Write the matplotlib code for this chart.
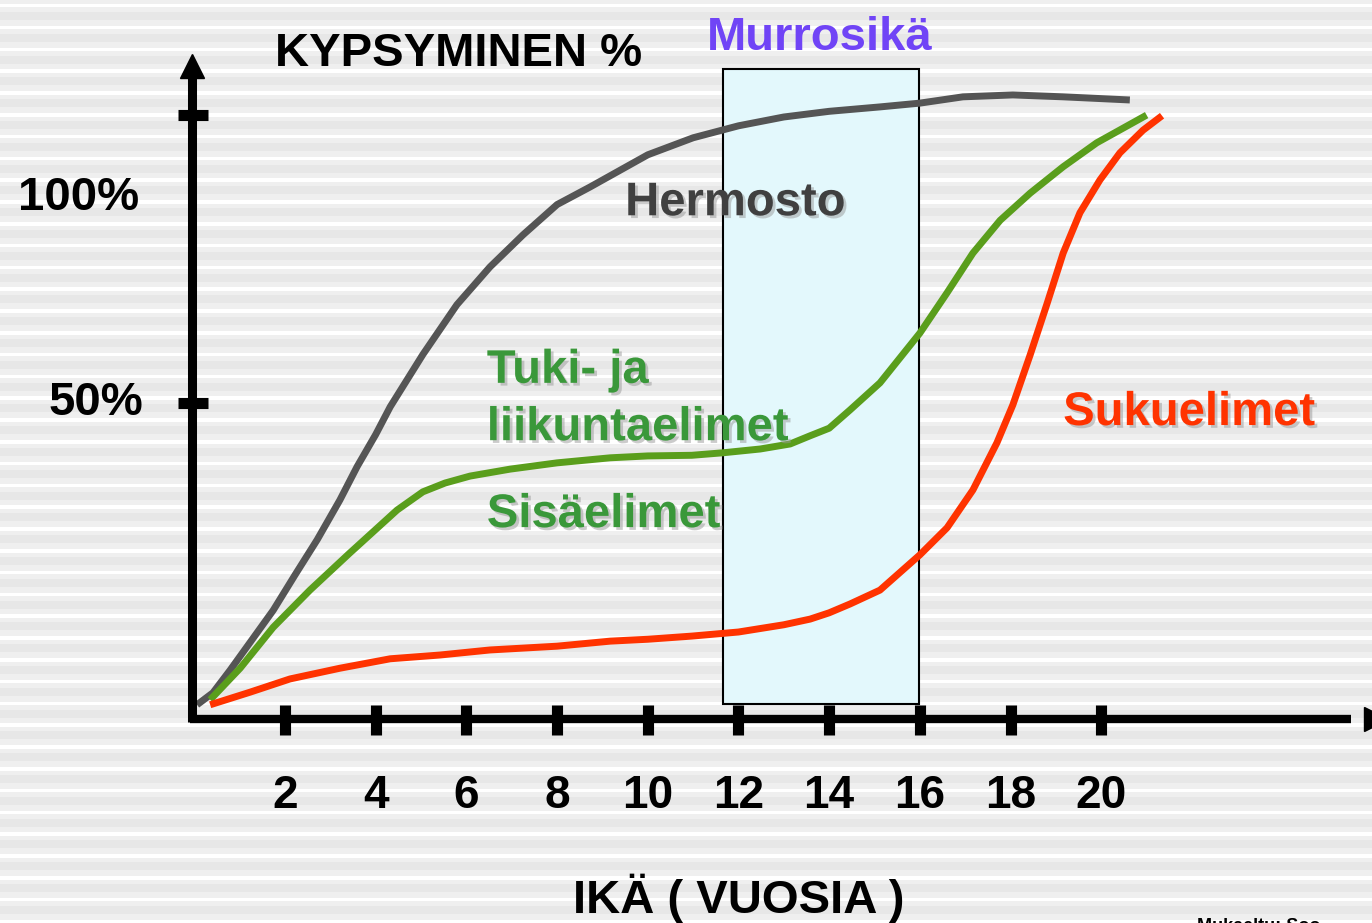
import numpy as np
import matplotlib
matplotlib.use('Agg')
import matplotlib.pyplot as plt
import matplotlib.patheffects as pe
from matplotlib.patches import Rectangle

# --- data: age (years) vs maturity (%) --------------------------------------
herm_age = [0.06, 0.41, 0.79, 1.23, 1.74, 2.22, 2.71, 3.21, 3.59, 4.0, 4.32, 5.04,
            5.79, 6.52, 7.25, 8.0, 8.73, 10.0, 11.0, 12.0, 13.0, 14.0, 15.12, 16.0,
            16.95, 18.05, 19.16, 20.63]
herm_pct = [2.1, 4.0, 7.6, 12.0, 17.1, 22.7, 28.3, 34.6, 39.9, 45.0, 49.4, 57.7,
            65.6, 71.6, 76.7, 81.5, 84.3, 89.4, 92.1, 94.0, 95.4, 96.3, 97.0, 97.6,
            98.6, 98.9, 98.6, 98.1]

tuki_age = [0.35, 1.01, 1.74, 2.55, 3.43, 4.47, 5.04, 5.53, 6.08, 6.96, 8.0, 9.17,
            10.0, 10.97, 11.66, 12.48, 13.14, 13.58, 14.0, 14.46, 15.12, 16.0, 16.6,
            17.17, 17.77, 18.43, 19.16, 19.9, 21.0]
tuki_pct = [2.9, 7.9, 14.4, 20.3, 26.2, 33.0, 35.9, 37.3, 38.4, 39.5, 40.5, 41.3,
            41.6, 41.7, 42.1, 42.7, 43.5, 44.8, 46.0, 48.9, 53.2, 61.1, 67.5,
            73.8, 79.0, 83.3, 87.5, 91.3, 95.7]

suku_age = [0.35, 1.23, 2.11, 3.21, 4.32, 5.42, 6.52, 8.0, 9.17, 10.0, 10.97, 12.0,
            13.0, 13.58, 14.0, 14.46, 15.12, 16.0, 16.6, 17.17, 17.7, 18.05, 18.43,
            18.81, 19.16, 19.53, 19.97, 20.41, 20.92, 21.34]
suku_pct = [2.1, 4.1, 6.2, 7.9, 9.4, 10.0, 10.8, 11.4, 12.2, 12.5, 13.0, 13.65,
            14.8, 15.7, 16.7, 18.1, 20.3, 25.9, 30.2, 36.2, 43.7, 49.7, 57.6,
            65.9, 73.8, 80.2, 85.4, 89.7, 93.3, 95.6]

x_ticks = [2, 4, 6, 8, 10, 12, 14, 16, 18, 20]
y_ticks = [95.7, 50]
puberty = (11.66, 15.98)          # Murrosikä window (years)

GRAY, GREEN, RED = '#555555', '#5a9e1c', '#ff3300'
GREEN_TXT = '#3a983a'

plt.rcParams['font.family'] = ['Liberation Sans', 'DejaVu Sans']
fig = plt.figure(figsize=(13.72, 9.23), dpi=100)

# striped slide background
bg = fig.add_axes([0, 0, 1, 1], zorder=0)
rows = np.arange(923)
phase = (rows - 3.5) % 21.8
shade = np.where(phase < 3.5, 1.0, np.where((phase > 8) & (phase < 16), 0.905, 0.935))
bg.imshow(np.repeat(shade[:, None], 4, axis=1), cmap='gray', vmin=0, vmax=1,
          aspect='auto', interpolation='nearest', extent=[0, 1, 0, 1])
bg.set_axis_off()

ax = fig.add_axes([0, 0, 1, 1], zorder=1)
ax.set_facecolor('none')
ax.set_xlim(-4.285, 25.97)
ax.set_ylim(-32.54, 113.97)
ax.set_axis_off()

# puberty box
ax.add_patch(Rectangle((puberty[0], 2.2), puberty[1] - puberty[0], 100.8,
                       facecolor='#e3f8fc', edgecolor='black', lw=1.5, zorder=2))

# axes with arrows and chunky ticks
ax.plot([-0.05, -0.05], [-0.6, 102], color='black', lw=6.5, solid_capstyle='butt', zorder=4)
ax.plot([-0.05], [103.5], marker='^', ms=17, color='black', zorder=4)
ax.plot([-0.1, 25.5], [-0.15, -0.15], color='black', lw=6, solid_capstyle='butt', zorder=4)
ax.plot([26.06], [-0.15], marker='>', ms=17, color='black', zorder=4, clip_on=False)
for t in x_ticks:
    ax.plot([t, t], [2.1, -2.7], color='black', lw=8, solid_capstyle='butt', zorder=4)
    ax.text(t, -14.3, str(t), ha='center', va='baseline', fontsize=33,
            fontweight='bold', zorder=5)
for t in y_ticks:
    ax.plot([-0.36, 0.3], [t, t], color='black', lw=8, solid_capstyle='butt', zorder=4)

# curves
for xs, ys, c in [(herm_age, herm_pct, GRAY), (tuki_age, tuki_pct, GREEN),
                  (suku_age, suku_pct, RED)]:
    ax.plot(xs, ys, color=c, lw=5, solid_capstyle='butt', solid_joinstyle='round',
            zorder=3)

shadow = [pe.withSimplePatchShadow(offset=(2, -2), shadow_rgbFace='#999999', alpha=0.5)]
fs = 34
ax.text(1.78, 103.5, 'KYPSYMINEN %', fontsize=fs, fontweight='bold', va='baseline', zorder=5)
ax.text(13.8, 106.0, 'Murrosikä', fontsize=fs, fontweight='bold', color='#7044f6',
        ha='center', va='baseline', zorder=5)
ax.text(9.5, 79.8, 'Hermosto', fontsize=fs, fontweight='bold', color='#404040',
        va='baseline', zorder=5, path_effects=shadow)
ax.text(6.45, 53.2, 'Tuki- ja', fontsize=fs, fontweight='bold', color=GREEN_TXT,
        va='baseline', zorder=5, path_effects=shadow)
ax.text(6.45, 44.1, 'liikuntaelimet', fontsize=fs, fontweight='bold', color=GREEN_TXT,
        va='baseline', zorder=5, path_effects=shadow)
ax.text(6.45, 30.3, 'Sisäelimet', fontsize=fs, fontweight='bold', color=GREEN_TXT,
        va='baseline', zorder=5, path_effects=shadow)
ax.text(19.16, 46.5, 'Sukuelimet', fontsize=fs, fontweight='bold', color=RED,
        va='baseline', zorder=5, path_effects=shadow)
ax.text(-3.89, 80.6, '100%', fontsize=fs, fontweight='bold', va='baseline', zorder=5)
ax.text(-3.22, 48.1, '50%', fontsize=fs, fontweight='bold', va='baseline', zorder=5)
ax.text(12.0, -31.0, 'IKÄ ( VUOSIA )', fontsize=fs, fontweight='bold', ha='center',
        va='baseline', zorder=5)
ax.text(22.1, -33.8, 'Mukaeltu: Soo', fontsize=13, fontweight='bold', va='baseline',
        zorder=5, clip_on=False)

fig.savefig('out.png', dpi=100)
